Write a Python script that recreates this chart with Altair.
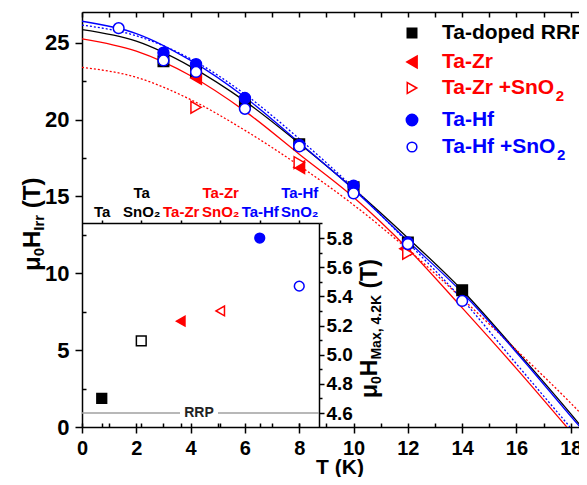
import altair as alt
import pandas as pd

FONT = "Liberation Sans"
BLACK, RED, BLUE = "#000000", "#ff0000", "#0000ff"

# ---------------- data ----------------
# fitted curves, read at T = 0, 2, 4, ... K ; each ends at H = 0 at its own Tc
fit_T = [0, 2, 4, 6, 8, 10, 12, 14, 16, 18]
fit_rrp = [25.85, 25.1, 23.45, 21.2, 18.45, 15.5, 12.3, 8.9, 4.95, 0.85]
tc_rrp = 18.4
fit_hf = [26.4, 25.6, 23.85, 21.45, 18.5, 15.45, 12.1, 8.75, 4.85, 0.7]
tc_hf = 18.34
fit_hf_sn = [26.15, 25.45, 23.95, 21.65, 18.75, 15.55, 12.0, 8.3, 4.1]
tc_hf_sn = 17.97
fit_zr = [25.25, 24.45, 22.85, 20.55, 17.75, 14.95, 11.6, 7.75, 3.8]
tc_zr = 17.85
fit_zr_sn = [23.4, 22.75, 21.3, 19.3, 17.0, 14.45, 11.55, 8.35, 5.0, 1.55]
tc_zr_sn = 18.85

# measured points
rrp_T = [3, 4.2, 6, 8, 10, 12, 14]
rrp_H = [23.8, 23.1, 21.0, 18.4, 15.6, 12.0, 8.9]
zr_T = [4.2, 8, 11.9]
zr_H = [22.7, 16.9, 11.6]
zr_sn_T = [4.2, 8, 12]
zr_sn_H = [20.8, 17.2, 11.3]
hf_T = [3, 4.2, 6, 8, 10, 12]
hf_H = [24.35, 23.6, 21.4, 18.35, 15.7, 12.0]
hf_sn_T = [1.35, 3, 4.2, 6, 8, 10, 12, 14]
hf_sn_H = [25.95, 23.85, 23.1, 20.7, 18.25, 15.2, 11.9, 8.2]

# inset
inset_cats = ["Ta", "Ta SnO₂", "Ta-Zr", "Ta-Zr SnO₂", "Ta-Hf", "Ta-Hf SnO₂"]
inset_vals = [4.70, 5.095, 5.23, 5.30, 5.80, 5.47]
rrp_level = 4.6

legend_labels = ["Ta-doped RRP", "Ta-Zr", "Ta-Zr +SnO", "Ta-Hf", "Ta-Hf +SnO"]
legend_sub = [False, False, True, False, True]

# ---------------- styles / layout ----------------
inset_shapes = ["square", "square", "triangle-left", "triangle-left", "circle", "circle"]
inset_fills = [BLACK, "white", RED, "white", BLUE, "white"]
inset_strokes = [BLACK, BLACK, RED, RED, BLUE, BLUE]

W, H = 497, 415
PX_PER_K = 27.155
xs = alt.Scale(domain=[0, round(W / PX_PER_K, 3)], nice=False, zero=False)
ys = alt.Scale(domain=[0, 27], nice=False, zero=False)
IW, ITOP = 237, 211
ixs = alt.Scale(type="point", domain=inset_cats, range=[0, IW], padding=0.5)
iys = alt.Scale(domain=[4.504, 5.903], range=[H, ITOP], nice=False, zero=False)

AWID = {' ': 278, '(': 333, ')': 333, '+': 584, ',': 278, '-': 333, '.': 278,
        '0': 556, '2': 556, '4': 556, 'H': 722, 'I': 278, 'K': 722, 'M': 833,
        'O': 778, 'S': 667, 'T': 611, 'Z': 611, 'a': 556, 'd': 611, 'e': 556,
        'f': 333, 'n': 611, 'o': 611, 'p': 611, 'r': 389, 'x': 556, 'μ': 611,
        'P': 667, 'R': 722}


def tw(s, fs):
    return sum(AWID.get(c, 556) for c in s) * fs / 1000.0


one = pd.DataFrame({"a": [0]})
common = dict(grid=False, labelFont=FONT, labelFontWeight="bold", labelColor=BLACK,
              tickColor=BLACK, domainColor=BLACK, tickWidth=1.5, domainWidth=1.5,
              labelFlush=False, labelOverlap=False, titleFont=FONT,
              titleFontWeight="bold", titleColor=BLACK)

A1 = alt.Axis(orient="bottom", values=list(range(0, 19, 2)), format="d", tickSize=6,
              labelFontSize=20, labelPadding=5, title=None, labelAngle=0, **common)
A2 = alt.Axis(orient="top", offset=-H, values=list(range(0, 19)), tickSize=4,
              labels=False, domain=False, title=None, **common)
A3 = alt.Axis(orient="bottom", offset=-H, values=list(range(0, 19)), tickSize=5,
              labels=False, domain=True, title=None, **common)
B1 = alt.Axis(orient="left", values=list(range(0, 26, 5)), format="d", tickSize=7,
              labelFontSize=22, labelPadding=6, title=None, **common)
B2 = alt.Axis(orient="right", offset=-W, values=[2.5, 7.5, 12.5, 17.5, 22.5],
              tickSize=4, labels=False, domain=False, title=None, **common)

label_color = {"condition": [{"test": "indexof(datum.value, 'Zr') >= 0", "value": RED},
                             {"test": "indexof(datum.value, 'Hf') >= 0", "value": BLUE}],
               "value": BLACK}
icommon = dict(common)
icommon.pop("labelColor")
C1 = alt.Axis(orient="top", offset=-ITOP,
              labelExpr="indexof(datum.label, ' ') >= 0 ? split(datum.label, ' ') : ['', datum.label]",
              labelAngle=0, labelAlign="center", labelBaseline="bottom",
              labelFontSize=15, labelLineHeight=19, labelColor=label_color,
              tickSize=3, labelPadding=20, title=None, **icommon)
C2 = alt.Axis(orient="top", offset=-H, tickSize=4, labels=False, domain=False,
              title=None, **common)
D1 = alt.Axis(orient="right", offset=-(W - IW), values=[round(4.6 + 0.2 * i, 1) for i in range(7)],
              format=".1f", tickSize=5, labelFontSize=19, labelPadding=2, title=None, **common)
D2 = alt.Axis(orient="right", offset=-(W - IW),
              values=[round(4.5 + 0.2 * i, 1) for i in range(8)], tickSize=3,
              labels=False, domain=False, title=None, **common)

layers = []

# ---- fitted curves ----
curves = [
    (fit_rrp, tc_rrp, BLACK, None, A1, B1),
    (fit_zr, tc_zr, RED, None, A2, B2),
    (fit_zr_sn, tc_zr_sn, RED, [2, 2], A3, None),
    (fit_hf, tc_hf, BLUE, None, None, None),
    (fit_hf_sn, tc_hf_sn, BLUE, [2, 2], None, None),
]
for vals, tc, col, dash, xa, ya in curves:
    df = pd.DataFrame({"T": fit_T[:len(vals)] + [tc], "H": vals + [0]})
    mk = dict(color=col, strokeWidth=1.3, clip=True, interpolate="monotone")
    if dash:
        mk["strokeDash"] = dash
    layers.append(alt.Chart(df).mark_line(**mk).encode(
        x=alt.X("T:Q", scale=xs, axis=xa), y=alt.Y("H:Q", scale=ys, axis=ya)))

# ---- measured points ----
pts = [
    (rrp_T, rrp_H, "square", BLACK, BLACK, 110),
    (zr_T, zr_H, "triangle-left", RED, RED, 150),
    (zr_sn_T, zr_sn_H, "triangle-right", "white", RED, 140),
    (hf_T, hf_H, "circle", BLUE, BLUE, 120),
    (hf_sn_T, hf_sn_H, "circle", "white", BLUE, 115),
]
for Ts, Hs, shp, fil, stk, sz in pts:
    df = pd.DataFrame({"T": Ts, "H": Hs})
    layers.append(alt.Chart(df).mark_point(shape=shp, filled=True, fill=fil, stroke=stk,
                                           strokeWidth=1.5, size=sz, opacity=1).encode(
        x=alt.X("T:Q", scale=xs, axis=None), y=alt.Y("H:Q", scale=ys, axis=None)))

# ---- inset ----
idf = pd.DataFrame({"cat": inset_cats, "v": inset_vals})
layers.append(alt.Chart(idf).mark_point(filled=True, strokeWidth=1.5, size=95, opacity=1).encode(
    x=alt.X("cat:N", scale=ixs, axis=C1),
    y=alt.Y("v:Q", scale=iys, axis=D1),
    shape=alt.Shape("cat:N", scale=alt.Scale(domain=inset_cats, range=inset_shapes), legend=None),
    fill=alt.Fill("cat:N", scale=alt.Scale(domain=inset_cats, range=inset_fills), legend=None),
    stroke=alt.Stroke("cat:N", scale=alt.Scale(domain=inset_cats, range=inset_strokes), legend=None),
))
layers.append(alt.Chart(idf).mark_point(opacity=0).encode(
    x=alt.X("cat:N", scale=ixs, axis=C2), y=alt.Y("v:Q", scale=iys, axis=None)))
layers.append(alt.Chart(one).mark_rule(color="#a0a0a0", strokeWidth=1.5).encode(
    x=alt.value(0), x2=alt.value(98), y=alt.Y(datum=rrp_level, scale=iys, axis=D2)))
layers.append(alt.Chart(one).mark_rule(color="#a0a0a0", strokeWidth=1.5).encode(
    x=alt.value(136), x2=alt.value(IW), y=alt.Y(datum=rrp_level, scale=iys, axis=None)))
layers.append(alt.Chart(one).mark_text(text="RRP", font=FONT, fontWeight="bold", fontSize=14,
                                       color="#222222", baseline="middle").encode(
    x=alt.value(117), y=alt.Y(datum=rrp_level, scale=iys, axis=None)))

# ---- x axis title ----
layers.append(alt.Chart(one).mark_text(text="T (K)", font=FONT, fontWeight="bold", fontSize=21,
                                       align="center", baseline="alphabetic", color=BLACK).encode(
    x=alt.value(258), y=alt.value(462)))


# ---- rotated titles with subscripts ----
def piece_layers(pieces, x_big, x_sub, y_start):
    out = []
    y = y_start
    for s, fs, sub in pieces:
        if s.startswith(" "):
            y -= tw(" ", fs)
            s = s.strip()
        out.append(alt.Chart(one).mark_text(text=s, font=FONT, fontWeight="bold", fontSize=fs,
                                            angle=270, align="left", baseline="alphabetic",
                                            color=BLACK).encode(
            x=alt.value(x_sub if sub else x_big), y=alt.value(y)))
        y -= tw(s, fs)
    return out


layers += piece_layers([("μ", 24, 0), ("0", 15, 1), ("H", 24, 0), ("Irr", 15, 1), (" (T)", 24, 0)],
                       -42, -38, 259)
layers += piece_layers([("μ", 23, 0), ("0", 14, 1), ("H", 23, 0), ("Max, 4.2K", 14, 1), (" (T)", 23, 0)],
                       295, 299, 386)

# ---- legend ----
leg_shapes = ["square", "triangle-left", "triangle-right", "circle", "circle"]
leg_fills = [BLACK, RED, "white", BLUE, "white"]
leg_strokes = [BLACK, RED, RED, BLUE, BLUE]
leg_colors = [BLACK, RED, RED, BLUE, BLUE]
leg_sizes = [90, 140, 120, 130, 95]
leg_rows = [21, 50, 76, 108, 135]
for i, lab in enumerate(legend_labels):
    yy = leg_rows[i]
    layers.append(alt.Chart(one).mark_point(shape=leg_shapes[i], filled=True, fill=leg_fills[i],
                                            stroke=leg_strokes[i], strokeWidth=1.5,
                                            size=leg_sizes[i], opacity=1).encode(
        x=alt.value(330), y=alt.value(yy)))
    layers.append(alt.Chart(one).mark_text(text=lab, font=FONT, fontWeight="bold", fontSize=21,
                                           align="left", baseline="middle",
                                           color=leg_colors[i]).encode(
        x=alt.value(360), y=alt.value(yy)))
    if legend_sub[i]:
        layers.append(alt.Chart(one).mark_text(text="2", font=FONT, fontWeight="bold", fontSize=15,
                                               align="left", baseline="middle",
                                               color=leg_colors[i]).encode(
            x=alt.value(360 + tw(lab, 21)), y=alt.value(yy + 8)))

chart = alt.layer(*layers).resolve_scale(x="independent", y="independent").properties(
    width=W, height=H,
    autosize=alt.AutoSizeParams(type="none"),
    padding={"left": 74, "top": 4, "right": 0, "bottom": 50},
    background="white",
).configure_view(stroke=None)

chart.save("out.html", embed_options={"renderer": "svg", "actions": False})
